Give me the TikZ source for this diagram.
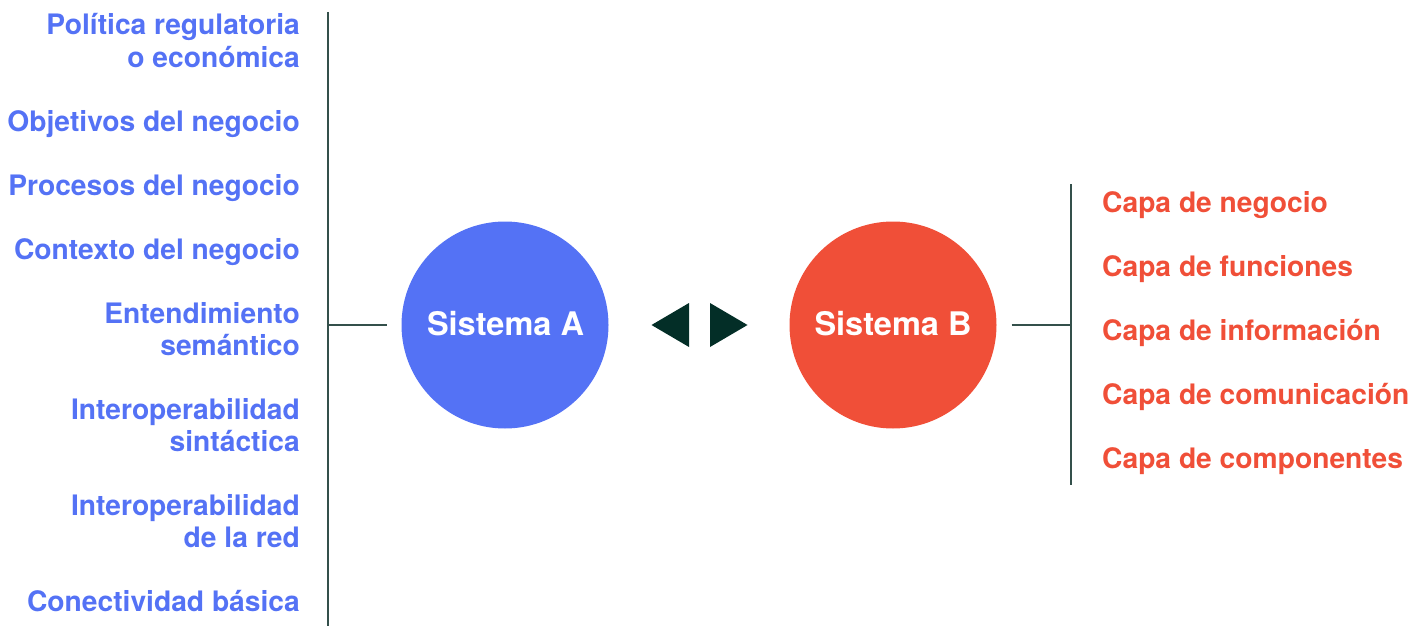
\documentclass[tikz,border=0pt]{standalone}
\usepackage{fontspec}
\setmainfont{TeX Gyre Heros}
\definecolor{sysblue}{HTML}{5472F5}
\definecolor{sysred}{HTML}{F04F38}
\definecolor{darkgreen}{HTML}{032E27}
\definecolor{rule}{HTML}{34504B}
\tikzset{
  lefttxt/.style={anchor=base east, inner sep=0pt, text=sysblue, font=\fontsize{28.2}{32}\selectfont\bfseries},
  righttxt/.style={anchor=base west, inner sep=0pt, text=sysred, font=\fontsize{28.2}{32}\selectfont\bfseries},
  sysnode/.style={circle, inner sep=0pt, minimum size=207pt},
  syslabel/.style={anchor=base, inner sep=0pt, text=white, font=\fontsize{32.5}{36}\selectfont\bfseries},
  ruleline/.style={draw=rule, line width=1.4pt},
}
\begin{document}
\begin{tikzpicture}[x=1pt,y=-1pt]
\useasboundingbox (0,0) rectangle (1411,626);

% left column of levels
\node[lefttxt] (l1a) at (300,35) {Política regulatoria};
\node[lefttxt] (l1b) at (300,67) {o económica};
\node[lefttxt] (l2) at (300,131) {Objetivos del negocio};
\node[lefttxt] (l3) at (300,195) {Procesos del negocio};
\node[lefttxt] (l4) at (300,259) {Contexto del negocio};
\node[lefttxt] (l5a) at (300,323) {Entendimiento};
\node[lefttxt] (l5b) at (300,355) {semántico};
\node[lefttxt] (l6a) at (300,419) {Interoperabilidad};
\node[lefttxt] (l6b) at (300,451) {sintáctica};
\node[lefttxt] (l7a) at (300,515) {Interoperabilidad};
\node[lefttxt] (l7b) at (300,547) {de la red};
\node[lefttxt] (l8) at (300,611) {Conectividad básica};

% right column of layers
\node[righttxt] (r1) at (1102,212) {Capa de negocio};
\node[righttxt] (r2) at (1102,276) {Capa de funciones};
\node[righttxt] (r3) at (1102,340) {Capa de información};
\node[righttxt] (r4) at (1102,404) {Capa de comunicación};
\node[righttxt] (r5) at (1102,468) {Capa de componentes};

% the two systems
\node[sysnode, fill=sysblue] (A) at (505,325) {};
\node[syslabel] (Alab) at (505.5,335) {Sistema A};
\node[sysnode, fill=sysred] (B) at (893,325) {};
\node[syslabel] (Blab) at (893,335) {Sistema B};

% brackets and connectors
\coordinate (lt) at (328,12);
\coordinate (lb) at (328,626);
\coordinate (lm) at (328,325);
\draw[ruleline] (lt) -- (lb);
\draw[ruleline] (lm) -- ([xshift=-14pt]A.west);

\coordinate (rt) at (1071,184);
\coordinate (rb) at (1071,485);
\coordinate (rm) at (1071,325);
\draw[ruleline] (rt) -- (rb);
\draw[ruleline] ([xshift=15pt]B.east) -- (rm);

% exchange arrows
\fill[darkgreen] (651.5,325) -- (689,303) -- (689,347) -- cycle;
\fill[darkgreen] (747.5,325) -- (710,303) -- (710,347) -- cycle;
\end{tikzpicture}
\end{document}
